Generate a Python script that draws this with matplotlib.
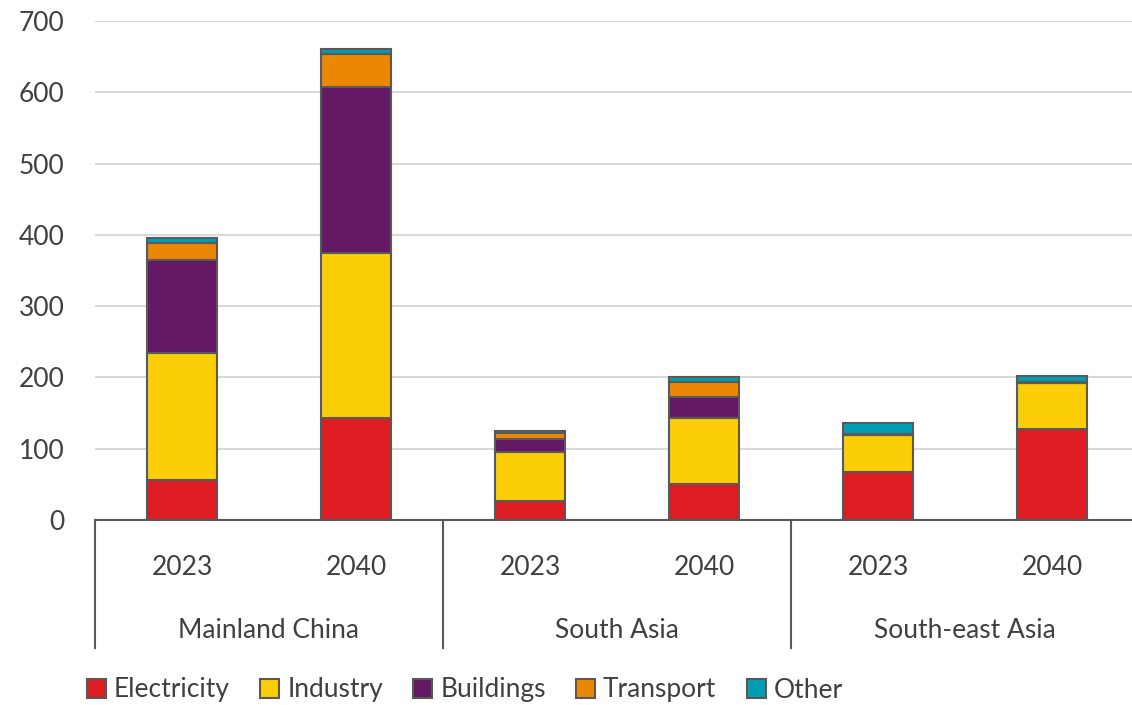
import numpy as np
import matplotlib
matplotlib.use('Agg')
import matplotlib.pyplot as plt
from matplotlib.patches import Patch

plt.rcParams['font.family'] = ['Lato', 'DejaVu Sans']

regions = ['Mainland China', 'South Asia', 'South-east Asia']
years = ['2023', '2040', '2023', '2040', '2023', '2040']
sectors = ['Electricity', 'Industry', 'Buildings', 'Transport', 'Other']

electricity = [56, 143, 27, 51, 68, 127]
industry = [178, 231, 69, 92, 51, 65]
buildings = [131, 234, 17, 30, 0, 0]
transport = [23, 46, 9, 21, 1, 1]
other = [8, 7, 3, 6, 16, 9]

colors = ['#dd1d21', '#fbce07', '#641964', '#eb8705', '#009eb4']
edge = '#595959'
txt = '#404040'

fig = plt.figure(figsize=(11.32, 7.05), dpi=100)
ax = fig.add_axes([95/1132, (705-520)/705, (1139-95)/1132, 499/705])

x = np.arange(len(years))
bottom = np.zeros(len(years))
for name, vals, c in zip(sectors, [electricity, industry, buildings, transport, other], colors):
    vals = np.array(vals, dtype=float)
    ax.bar(x, vals, width=0.4, bottom=bottom, color=c, edgecolor=edge, linewidth=1.5, zorder=3)
    bottom += vals

ax.set_xlim(-0.5, 5.5)
ax.set_ylim(0, 700)
ax.set_yticks(range(0, 701, 100))
ax.yaxis.grid(True, color='#d9d9d9', linewidth=1.5, zorder=0)
ax.set_xticks([])
ax.tick_params(axis='y', length=0, pad=22, labelsize=19, labelcolor=txt)
for s in ['left', 'right', 'top']:
    ax.spines[s].set_visible(False)
ax.spines['bottom'].set_color(edge)
ax.spines['bottom'].set_linewidth(1.5)
ax.spines['bottom'].set_zorder(4)

tr = ax.get_xaxis_transform()
for i, y in enumerate(years):
    ax.text(i, -0.095, y, transform=tr, ha='center', va='center', fontsize=19, color=txt)
for j, r in enumerate(regions):
    ax.text(2*j + 0.5, -0.222, r, transform=tr, ha='center', va='center', fontsize=19, color=txt)
for sx in [-0.5, 1.5, 3.5, 5.5]:
    ax.plot([sx, sx], [0, -0.2565], transform=tr, color=edge, linewidth=1.5, clip_on=False)

handles = [Patch(facecolor=c, edgecolor=edge, linewidth=1.5) for c in colors]
fig.legend(handles, sectors, loc='center left', bbox_to_anchor=(87/1132, 1-690/705), ncol=5,
           frameon=False, fontsize=19, labelcolor=txt, handlelength=0.72, handleheight=0.72,
           handletextpad=0.3, columnspacing=1.15, borderaxespad=0, borderpad=0)

fig.savefig('out.png', dpi=100)
